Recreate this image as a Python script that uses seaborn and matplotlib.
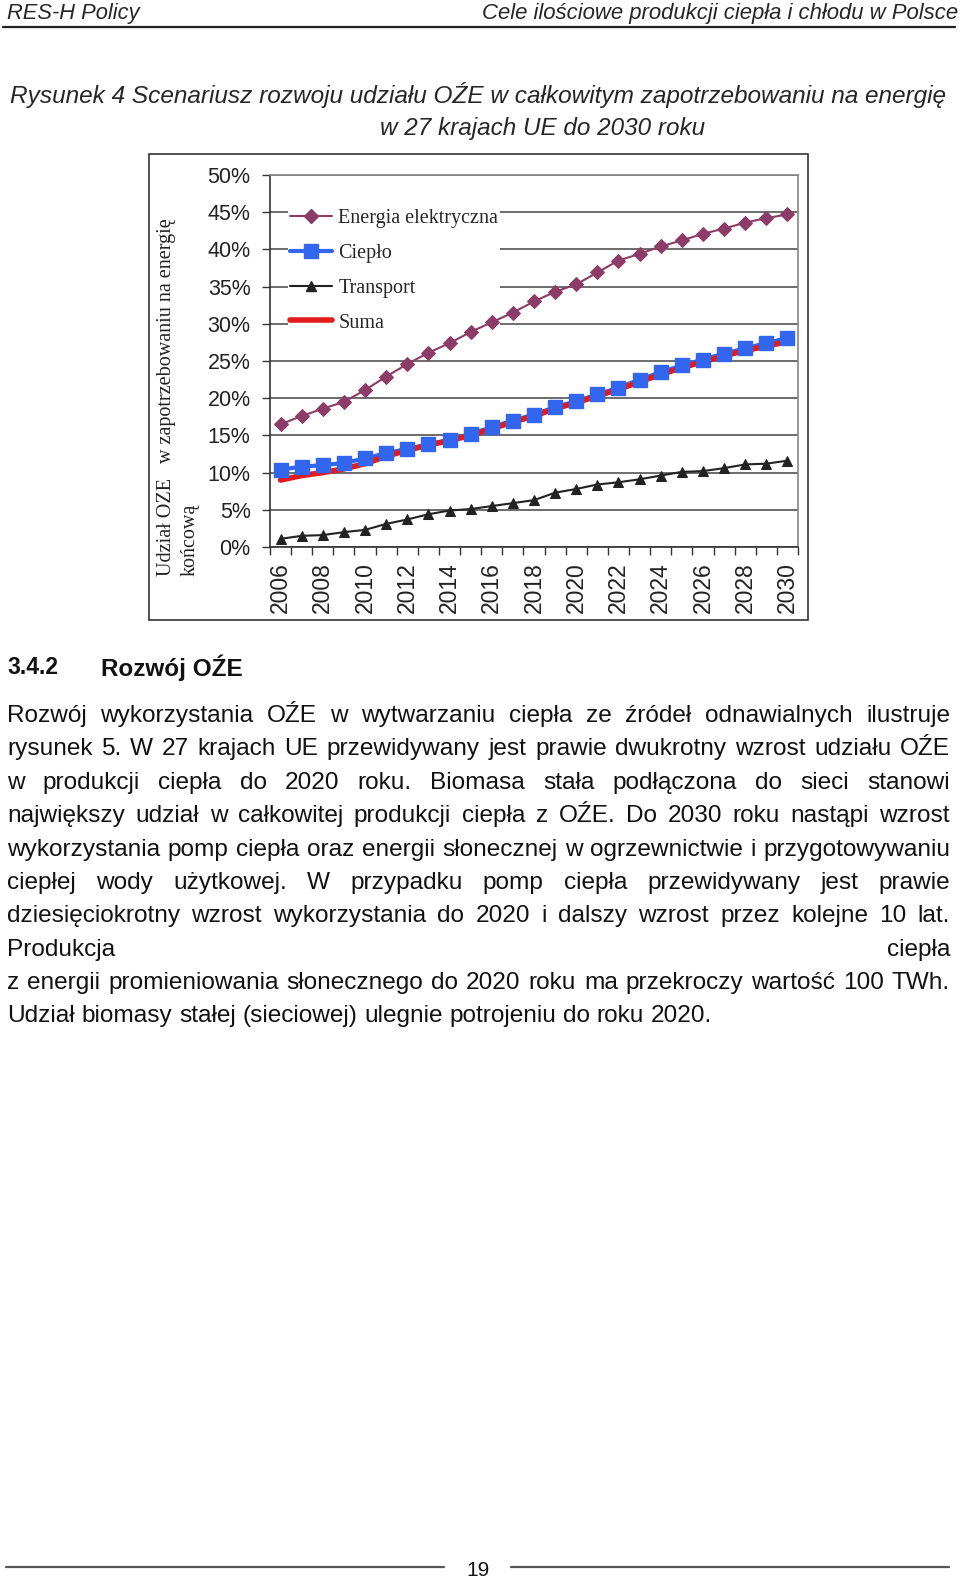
import matplotlib
matplotlib.use("Agg")
import matplotlib.pyplot as plt
import seaborn as sns
import pandas as pd
from matplotlib.patches import Rectangle
from matplotlib.lines import Line2D
from matplotlib.ticker import FuncFormatter

W, H = 960, 1579

years = list(range(2006, 2031))
energia = [16.5, 17.6, 18.6, 19.5, 21.1, 22.9, 24.6, 26.1, 27.4, 28.9, 30.2, 31.5, 33.0,
           34.3, 35.3, 36.9, 38.5, 39.4, 40.4, 41.2, 42.1, 42.8, 43.6, 44.2, 44.7]
cieplo = [10.4, 10.8, 11.0, 11.3, 11.9, 12.6, 13.2, 13.8, 14.4, 15.2, 16.1, 17.0, 17.8,
          18.8, 19.6, 20.5, 21.4, 22.5, 23.5, 24.4, 25.2, 26.0, 26.7, 27.4, 28.1]
transport = [1.1, 1.5, 1.6, 2.0, 2.3, 3.1, 3.7, 4.4, 4.9, 5.1, 5.5, 5.9, 6.3,
             7.3, 7.8, 8.4, 8.7, 9.1, 9.6, 10.1, 10.2, 10.6, 11.1, 11.2, 11.6]
suma = [9.0, 9.6, 10.0, 10.5, 11.2, 12.2, 13.0, 13.7, 14.3, 15.0, 15.9, 16.8, 17.6,
        18.6, 19.4, 20.3, 21.2, 22.2, 23.2, 24.1, 24.9, 25.7, 26.4, 27.0, 27.6]

series_names = ["Energia elektryczna", "Ciepło", "Transport", "Suma"]
y_label_1 = "Udział OZE   w zapotrzebowaniu na energię"
y_label_2 = "końcową"

header_left = "RES-H Policy"
header_right = "Cele ilościowe produkcji ciepła i chłodu w Polsce"
caption_1 = "Rysunek 4 Scenariusz rozwoju udziału OŹE w całkowitym zapotrzebowaniu na energię"
caption_2 = "w 27 krajach UE do 2030 roku"
section_no = "3.4.2"
section_title = "Rozwój OŹE"
body_lines = [
    "Rozwój wykorzystania OŹE w wytwarzaniu ciepła ze źródeł odnawialnych ilustruje",
    "rysunek 5. W 27 krajach UE przewidywany jest prawie dwukrotny wzrost udziału OŹE",
    "w produkcji ciepła do 2020 roku. Biomasa stała podłączona do sieci stanowi",
    "największy udział w całkowitej produkcji ciepła z OŹE. Do 2030 roku nastąpi wzrost",
    "wykorzystania pomp ciepła oraz energii słonecznej w ogrzewnictwie i przygotowywaniu",
    "ciepłej wody użytkowej. W przypadku pomp ciepła przewidywany jest prawie",
    "dziesięciokrotny wzrost wykorzystania do 2020 i dalszy wzrost przez kolejne 10 lat.",
    "Produkcja ciepła",
    "z energii promieniowania słonecznego do 2020 roku ma przekroczy wartość 100 TWh.",
    "Udział biomasy stałej (sieciowej) ulegnie potrojeniu do roku 2020.",
]
page_number = "19"

df = pd.DataFrame({"Rok": years, "Energia": energia, "Cieplo": cieplo,
                   "Transport": transport, "Suma": suma})
for c in ["Energia", "Cieplo", "Transport", "Suma"]:
    df[c] = df[c] / 100

sns.set_style("white")
plt.rcParams["font.family"] = ["Liberation Sans", "DejaVu Sans"]

fig = plt.figure(figsize=(W / 100, H / 100), dpi=100)
renderer = fig.canvas.get_renderer()


def fx(x):
    return x / W


def fy(y):
    return 1 - y / H


def fit(t, target, vertical=False):
    bb = t.get_window_extent(renderer)
    size = bb.height if vertical else bb.width
    t.set_fontsize(t.get_fontsize() * target / size)
    return t


def justify(line, y, x0, x1, fs, full=True):
    words = line.split(" ")
    widths = []
    for w in words:
        t = fig.text(0, 0, w, fontsize=fs)
        widths.append(t.get_window_extent(renderer).width)
        t.remove()
    if full and len(words) > 1:
        gap = (x1 - x0 - sum(widths)) / (len(words) - 1)
    else:
        sp = fig.text(0, 0, "a a", fontsize=fs)
        sa = fig.text(0, 0, "aa", fontsize=fs)
        gap = sp.get_window_extent(renderer).width - sa.get_window_extent(renderer).width
        sp.remove()
        sa.remove()
    x = x0
    for w, wd in zip(words, widths):
        fig.text(fx(x), fy(y), w, fontsize=fs, va="center", ha="left", color="#111111")
        x += wd + gap


# header
fit(fig.text(fx(7), fy(14), header_left, style="italic", fontsize=15, va="center"), 133)
fit(fig.text(fx(958), fy(14), header_right, style="italic", fontsize=15,
             va="center", ha="right"), 479)
fig.add_artist(Line2D([fx(3), fx(955)], [fy(27), fy(27)], color="#222222", lw=1.6))

# caption
fit(fig.text(fx(10), fy(95), caption_1, style="italic", fontsize=16, va="center"), 937)
fit(fig.text(fx(380), fy(128), caption_2, style="italic", fontsize=16, va="center"), 325)

# chart frame
fig.add_artist(Rectangle((fx(149), fy(620)), fx(808) - fx(149), fy(154) - fy(620),
                         transform=fig.transFigure, fill=False, edgecolor="#333333", lw=1.2))

ax = fig.add_axes([fx(270), fy(547), fx(798) - fx(270), fy(175) - fy(547)])
sns.lineplot(data=df, x="Rok", y="Energia", ax=ax, color="#8C3C66", lw=1.5,
             marker="D", markersize=7, markeredgecolor="#8C3C66", zorder=3)
sns.lineplot(data=df, x="Rok", y="Cieplo", ax=ax, color="#3366EE", lw=3,
             marker=None, zorder=3)
sns.lineplot(data=df, x="Rok", y="Suma", ax=ax, color="#E41A1C", lw=4, zorder=4)
ax.plot(df["Rok"], df["Cieplo"], ls="none", marker="s", markersize=9.5,
        color="#3366EE", zorder=5)
sns.lineplot(data=df, x="Rok", y="Transport", ax=ax, color="#222222", lw=1.5,
             marker="^", markersize=7.5, markeredgecolor="#222222", zorder=3)

ax.set_xlim(2005.5, 2030.5)
ax.set_ylim(0, 0.5)
ax.set_yticks([i * 0.05 for i in range(11)])
ax.yaxis.set_major_formatter(FuncFormatter(lambda v, p: f"{v * 100:.0f}%"))
ax.set_xticks(years[::2])
ax.set_xticklabels([str(y) for y in years[::2]], rotation=90)
ax.set_xticks([y - 0.5 for y in years] + [2030.5], minor=True)
ax.tick_params(axis="x", which="major", length=0, pad=11, labelsize=16.5, labelcolor="#222222")
ax.tick_params(axis="x", which="minor", length=6, width=1, color="#333333", direction="out", bottom=True)
ax.tick_params(axis="y", which="major", length=6, width=1, color="#333333", direction="out",
               left=True, pad=8, labelsize=15.5, labelcolor="#222222")
ax.yaxis.grid(True, color="#444444", lw=1.1)
ax.xaxis.grid(False)
ax.set_axisbelow(True)
ax.set_xlabel("")
ax.set_ylabel("")
for s in ["left", "bottom"]:
    ax.spines[s].set_color("#333333")
    ax.spines[s].set_linewidth(1.2)
for s in ["top", "right"]:
    ax.spines[s].set_color("#888888")
    ax.spines[s].set_linewidth(1.2)

handles = [
    Line2D([], [], color="#8C3C66", lw=1.5, marker="D", markersize=7),
    Line2D([], [], color="#3366EE", lw=3, marker="s", markersize=9.5),
    Line2D([], [], color="#222222", lw=1.5, marker="^", markersize=7.5),
    Line2D([], [], color="#E41A1C", lw=4),
]
leg = ax.legend(handles, series_names, loc="upper left",
                bbox_to_anchor=(fx(288), fy(207)), bbox_transform=fig.transFigure,
                prop={"family": "Liberation Serif", "size": 14.5},
                frameon=True, facecolor="white", edgecolor="none", framealpha=1,
                handlelength=2.1, handletextpad=0.3, labelspacing=0.78,
                borderpad=0.1, borderaxespad=0, fancybox=False)
leg.set_zorder(2.5)

# y label (two rotated lines)
fit(fig.text(fx(167), fy(576), y_label_1, family="Liberation Serif", fontsize=14,
             rotation=90, ha="center", va="bottom", color="#222222"), 360, vertical=True)
fig.text(fx(190), fy(576), y_label_2, family="Liberation Serif",
         fontsize=fig.texts[-1].get_fontsize(), rotation=90, ha="center", va="bottom",
         color="#222222")

# section heading
fig.text(fx(7), fy(668), section_no, fontsize=16.5, weight="bold", va="center", color="#111111")
fit(fig.text(fx(101), fy(668), section_title, fontsize=16.5, weight="bold", va="center",
             color="#111111"), 141)

# body text
probe = fig.text(0, 0, body_lines[-1], fontsize=16)
body_fs = 16 * 706 / probe.get_window_extent(renderer).width
probe.remove()
line_y = [716, 749, 783, 816, 850, 883, 916, 950, 983, 1016]
for i, (line, y) in enumerate(zip(body_lines, line_y)):
    justify(line, y, 7, 950, body_fs, full=(i != len(body_lines) - 1))

# footer
fig.add_artist(Line2D([fx(6), fx(444)], [fy(1567), fy(1567)], color="#555555", lw=1.6))
fig.add_artist(Line2D([fx(511), fx(949)], [fy(1567), fy(1567)], color="#555555", lw=1.6))
fig.text(fx(478), fy(1570), page_number, fontsize=15, ha="center", va="center", color="#111111")

fig.savefig("out.png", dpi=100, facecolor="white")
